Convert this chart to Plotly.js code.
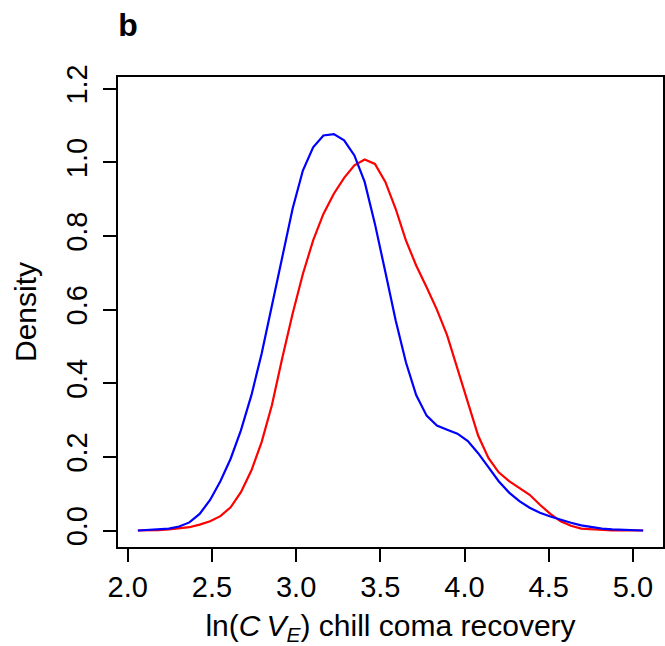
<!DOCTYPE html>
<html>
<head>
<meta charset="utf-8">
<script src="https://cdn.plot.ly/plotly-3.0.1.min.js"></script>
<style>html,body{margin:0;padding:0;background:#fff;}#chart{width:665px;height:646px;}</style>
</head>
<body>
<div id="chart"></div>
<script>
// Grid of evaluation points (ln CV_E)
const xGrid = [2.060, 2.121, 2.182, 2.244, 2.305, 2.366, 2.427, 2.489, 2.550, 2.611,
  2.672, 2.734, 2.795, 2.856, 2.917, 2.979, 3.040, 3.101, 3.162, 3.224,
  3.285, 3.346, 3.407, 3.468, 3.530, 3.591, 3.652, 3.713, 3.775, 3.836,
  3.897, 3.958, 4.020, 4.081, 4.142, 4.203, 4.265, 4.326, 4.387, 4.448,
  4.510, 4.571, 4.632, 4.693, 4.755, 4.816, 4.877, 4.938, 5.000, 5.061];

// Blue density curve
const blueDensity = [0.000, 0.001, 0.003, 0.005, 0.011, 0.022, 0.045, 0.083, 0.134, 0.195,
  0.272, 0.367, 0.480, 0.611, 0.747, 0.874, 0.978, 1.041, 1.073, 1.077,
  1.060, 1.019, 0.947, 0.833, 0.702, 0.571, 0.457, 0.368, 0.312, 0.285,
  0.274, 0.263, 0.243, 0.210, 0.172, 0.134, 0.103, 0.080, 0.062, 0.048,
  0.038, 0.029, 0.021, 0.014, 0.009, 0.005, 0.003, 0.002, 0.001, 0.000];

// Red density curve
const redDensity = [0.000, 0.000, 0.001, 0.003, 0.005, 0.009, 0.016, 0.025, 0.039, 0.063,
  0.104, 0.163, 0.240, 0.340, 0.467, 0.589, 0.697, 0.788, 0.860, 0.915,
  0.958, 0.992, 1.008, 0.996, 0.947, 0.874, 0.788, 0.720, 0.661, 0.600,
  0.530, 0.439, 0.344, 0.258, 0.197, 0.158, 0.134, 0.116, 0.097, 0.070,
  0.045, 0.025, 0.013, 0.005, 0.003, 0.001, 0.000, 0.000, 0.000, 0.000];

const xTickVals = [2.0, 2.5, 3.0, 3.5, 4.0, 4.5, 5.0];
const xTickText = ["2.0", "2.5", "3.0", "3.5", "4.0", "4.5", "5.0"];
const yTickVals = [0.0, 0.2, 0.4, 0.6, 0.8, 1.0, 1.2];
const yTickText = ["0.0", "0.2", "0.4", "0.6", "0.8", "1.0", "1.2"];

const FONT = "Liberation Sans, Arial, Helvetica, sans-serif";

const traces = [
  {x: xGrid, y: redDensity, type: "scatter", mode: "lines",
   line: {color: "#ff0000", width: 2.2}, hoverinfo: "skip"},
  {x: xGrid, y: blueDensity, type: "scatter", mode: "lines",
   line: {color: "#0000ff", width: 2.2}, hoverinfo: "skip"}
];

const layout = {
  width: 665, height: 646,
  paper_bgcolor: "#ffffff", plot_bgcolor: "#ffffff",
  showlegend: false,
  font: {family: FONT, color: "#000000", size: 29},
  margin: {l: 117.5, r: 1.5, t: 76.5, b: 99.2, pad: 0},
  title: {text: "<b>b</b>", font: {family: FONT, size: 32, color: "#000"},
          xref: "container", yref: "container", x: 0.1925, xanchor: "center",
          y: 0.961, yanchor: "middle"},
  xaxis: {
    range: [1.942, 5.179], tickvals: xTickVals, ticktext: xTickText,
    showgrid: false, zeroline: false, showline: true, mirror: true,
    linecolor: "#000", linewidth: 2, ticks: "outside", ticklen: 13,
    tickwidth: 2, tickcolor: "#000", tickfont: {size: 29},
    title: {text: "ln(<i>C\u2009V</i><sub><i>E</i></sub>) chill coma recovery",
            font: {size: 30}, standoff: 15},
    automargin: false
  },
  yaxis: {
    range: [-0.0448, 1.232], tickvals: yTickVals, ticktext: yTickText,
    showgrid: false, zeroline: false, showline: true, mirror: true,
    linecolor: "#000", linewidth: 2, ticks: "outside", ticklen: 13,
    tickwidth: 2, tickcolor: "#000", tickangle: -90, tickfont: {size: 29},
    ticklabelstandoff: 4,
    title: {text: "Density", font: {size: 30}, standoff: 16},
    automargin: false
  }
};

Plotly.newPlot("chart", traces, layout, {staticPlot: true, displayModeBar: false});
</script>
</body>
</html>
